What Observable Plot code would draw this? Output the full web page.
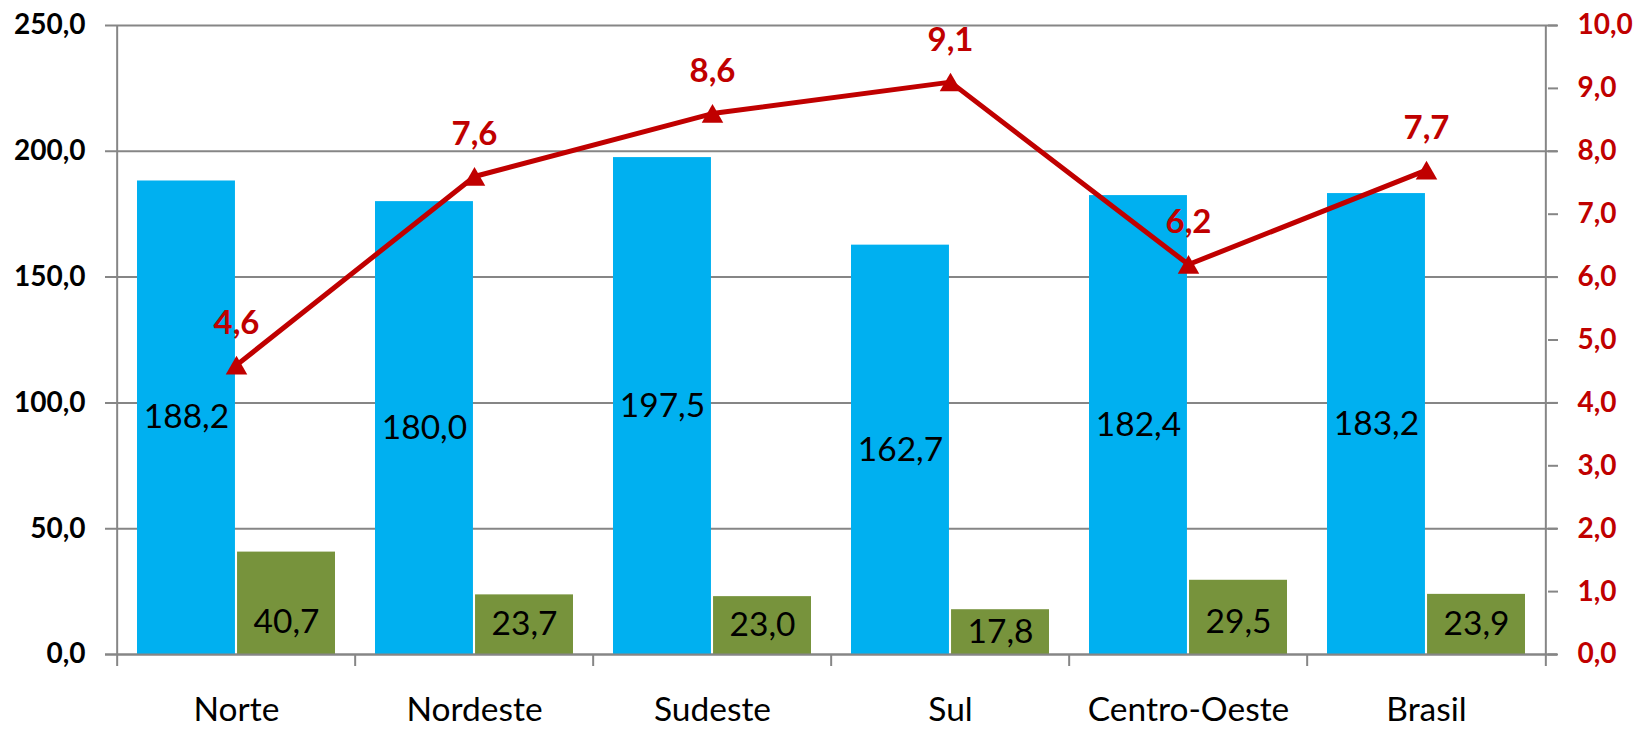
<!DOCTYPE html>
<html><head><meta charset="utf-8">
<script src="https://cdn.jsdelivr.net/npm/d3@7"></script>
<script src="https://cdn.jsdelivr.net/npm/@observablehq/plot@0.6"></script>
<style>html,body{margin:0;padding:0;background:#fff;} svg{display:block}</style>
</head><body><div id="chart"></div>
<script>
const regions = ["Norte", "Nordeste", "Sudeste", "Sul", "Centro-Oeste", "Brasil"];
const seriesBlue = [188.2, 180.0, 197.5, 162.7, 182.4, 183.2];
const seriesGreen = [40.7, 23.7, 23.0, 17.8, 29.5, 23.9];
const seriesRate = [4.6, 7.6, 8.6, 9.1, 6.2, 7.7];
const leftTicks = [0, 50, 100, 150, 200, 250];
const rightTicks = [0, 1, 2, 3, 4, 5, 6, 7, 8, 9, 10];

const W = 1637, H = 729, mL = 115, mR = 90, mT = 25, mB = 75;
const ratio = 250 / 10;
const step = (W - mL - mR) / regions.length;
const pad = 0.17;
const halfBand = step * (1 - pad) / 2;
const fmt = v => d3.format(".1f")(v).replace(".", ",");
const rows = regions.map((r, i) => ({region: r, blue: seriesBlue[i], green: seriesGreen[i], rate: seriesRate[i]}));
const grid = "#868686", blue = "#00B0F0", green = "#77933C", red = "#C00000";

const chart = Plot.plot({
  width: W, height: H,
  marginLeft: mL, marginRight: mR, marginTop: mT, marginBottom: mB,
  style: {fontFamily: "Lato, 'Open Sans', sans-serif", background: "#fff", color: "black"},
  x: {domain: regions, paddingInner: pad, paddingOuter: pad / 2, axis: null, label: null},
  y: {domain: [0, 250], axis: null, label: null},
  marks: [
    Plot.ruleY(leftTicks, {y: d => d, stroke: grid, strokeWidth: 2, insetLeft: -10, insetRight: -10}),
    Plot.barY(rows, {x: "region", y: "blue", fill: blue, insetRight: halfBand + 1}),
    Plot.barY(rows, {x: "region", y: "green", fill: green, insetLeft: halfBand + 1}),
    Plot.ruleY([0], {y: d => d, stroke: grid, strokeWidth: 2, insetLeft: -10, insetRight: -10}),
    // axis lines (left / right)
    Plot.ruleX([regions[0]], {x: d => d, y1: 250, y2: 0, dx: -step / 2, stroke: grid, strokeWidth: 2, insetBottom: -12}),
    Plot.ruleX([regions[regions.length - 1]], {x: d => d, y1: 250, y2: 0, dx: step / 2, stroke: grid, strokeWidth: 2, insetBottom: -12}),
    // category separators
    Plot.ruleX(regions.slice(1), {x: d => d, y1: 0, y2: 0, dx: -step / 2, stroke: grid, strokeWidth: 2, insetBottom: -12}),
    // bar labels
    Plot.text(rows, {x: "region", y: d => d.blue / 2, text: d => fmt(d.blue), dx: -halfBand / 2 - 0.5, fill: "black", fontSize: 33.5}),
    Plot.text(rows, {x: "region", y: d => Math.min(d.green / 2, 12.8), text: d => fmt(d.green), dx: halfBand / 2 + 0.5, fill: "black", fontSize: 33.5}),
    // rate line (right axis)
    Plot.line(rows, {x: "region", y: d => d.rate * ratio, stroke: red, strokeWidth: 5, strokeLinejoin: "miter"}),
    Plot.dot(rows, {x: "region", y: d => d.rate * ratio, symbol: "triangle", r: 8, fill: red, stroke: "none", dy: 3}),
    Plot.text(rows, {x: "region", y: d => d.rate * ratio, text: d => fmt(d.rate), dy: -42, fill: red, fontWeight: "bold", fontSize: 33}),
    // axes
    Plot.axisY({anchor: "left", ticks: leftTicks, tickSize: 0, tickPadding: 30, tickFormat: fmt, fill: "black", fontWeight: "bold", fontSize: 28, label: null}),
    Plot.axisY({anchor: "right", ticks: rightTicks.map(v => v * ratio), tickSize: 10, tickPadding: 20, tickFormat: d => fmt(d / ratio), stroke: grid, strokeWidth: 2, fill: red, fontWeight: "bold", fontSize: 28, label: null}),
    Plot.axisX({anchor: "bottom", tickSize: 0, tickPadding: 43, fill: "black", fontSize: 33.5, label: null})
  ]
});
document.getElementById("chart").appendChild(chart);
</script>
</body></html>
